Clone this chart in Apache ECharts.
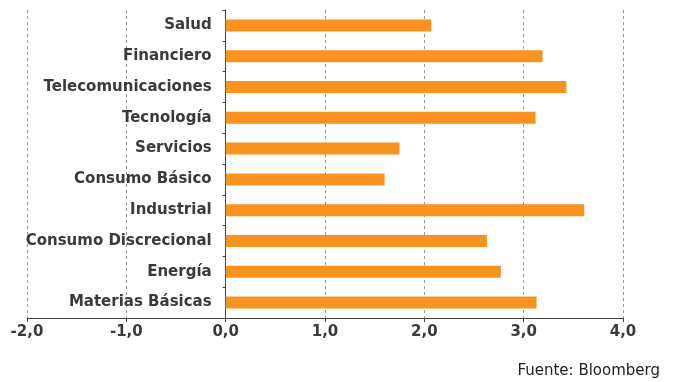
<!DOCTYPE html>
<html>
<head>
<meta charset="utf-8">
<script src="https://cdn.jsdelivr.net/npm/echarts@6/dist/echarts.min.js"></script>
<style>
  html, body { margin: 0; padding: 0; background: #fff; }
  #chart { width: 675px; height: 382px; }
</style>
</head>
<body>
<div id="chart"></div>
<script>
const categories = ["Salud", "Financiero", "Telecomunicaciones", "Tecnología", "Servicios",
  "Consumo Básico", "Industrial", "Consumo Discrecional", "Energía", "Materias Básicas"];
const values = [2.07, 3.19, 3.43, 3.12, 1.75, 1.60, 3.61, 2.63, 2.77, 3.13];
const ticks = [-2, -1, 0, 1, 2, 3, 4];

const font = "DejaVu Sans, sans-serif";
const textColor = "#3a3a3a";

const chart = echarts.init(document.getElementById("chart"));
chart.setOption({
  animation: false,
  textStyle: { fontFamily: font },
  grid: { left: 27, right: 52, top: 10, bottom: 64, containLabel: false, outerBoundsMode: "none" },
  xAxis: {
    type: "value",
    min: ticks[0],
    max: ticks[ticks.length - 1],
    interval: 1,
    axisLine: { show: true, lineStyle: { color: "#404040", width: 1 } },
    axisTick: { show: true, length: 4, lineStyle: { color: "#404040" } },
    axisLabel: {
      margin: 7,
      color: textColor,
      fontWeight: "bold",
      fontSize: 15,
      fontFamily: font,
      formatter: v => v.toFixed(1).replace(".", ",")
    },
    splitLine: { show: true, lineStyle: { color: "#999", type: [3, 3], width: 1 } }
  },
  yAxis: {
    type: "category",
    data: categories,
    inverse: true,
    axisLine: { show: true, onZero: true, lineStyle: { color: "#404040", width: 1 } },
    axisTick: { show: true, length: 3, lineStyle: { color: "#404040" } },
    axisLabel: { show: false },
    splitLine: { show: false }
  },
  series: [{
    type: "bar",
    data: values,
    barWidth: 12,
    itemStyle: { color: "#F7931E" },
    label: {
      show: true,
      position: "left",
      distance: 14,
      formatter: "{b}",
      color: textColor,
      fontWeight: "bold",
      fontSize: 15,
      fontFamily: font
    }
  }],
  graphic: [{
    type: "text",
    right: 15,
    top: 364,
    style: { text: "Fuente: Bloomberg", fontSize: 15, fill: "#222", fontFamily: font }
  }]
});
</script>
</body>
</html>
